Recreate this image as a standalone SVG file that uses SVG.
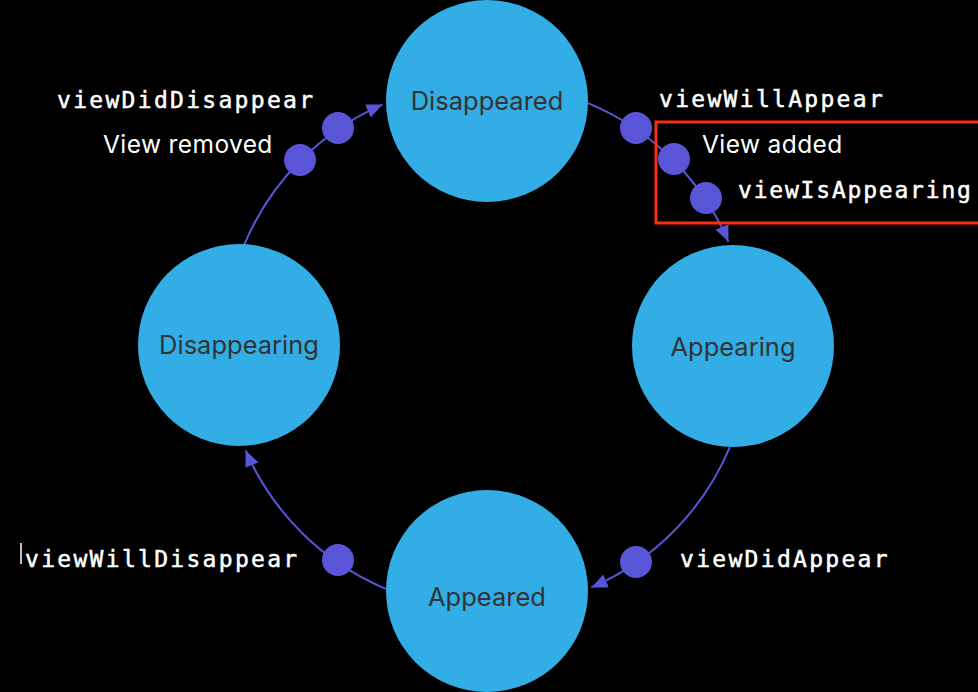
<svg xmlns="http://www.w3.org/2000/svg" width="978" height="692" viewBox="0 0 978 692">
  <style>
    .state { fill: #32ADE6; }
    .stateText { font-family: Inter, "Noto Sans", "Liberation Sans", sans-serif; font-size: 25.5px; fill: #333333; text-anchor: middle; }
    .conn { fill: none; stroke: #5856D6; stroke-width: 2; }
    .dot { fill: #5856D6; }
    .code { font-family: "DejaVu Sans Mono", "Liberation Mono", monospace; font-size: 23px; fill: #FFFFFF; letter-spacing: 2.3px; font-weight: normal; stroke: #FFFFFF; stroke-width: 0.5px; }
    .note { font-family: Inter, "Noto Sans", "Liberation Sans", sans-serif; font-size: 24.5px; letter-spacing: 0.4px; fill: #FFFFFF; }
  </style>
  <defs>
    <marker id="arrow" markerUnits="userSpaceOnUse" markerWidth="18" markerHeight="16" refX="16" refY="7" orient="auto">
      <path d="M0,0 L16,7 L0,14 z" fill="#5856D6"/>
    </marker>
  </defs>
  <rect x="0" y="0" width="978" height="692" fill="#000000"/>

  <g id="connectors">
    <path class="conn" d="M244.2,244.9 A263,263 0 0 1 382.6,104.6" marker-end="url(#arrow)"/>
    <path class="conn" d="M588.1,103.2 A263,263 0 0 1 728.4,241.6" marker-end="url(#arrow)"/>
    <path class="conn" d="M729.8,447.1 A263,263 0 0 1 591.4,587.4" marker-end="url(#arrow)"/>
    <path class="conn" d="M385.9,588.8 A263,263 0 0 1 245.6,450.4" marker-end="url(#arrow)"/>
  </g>

  <g id="dots">
    <circle class="dot" cx="300" cy="160" r="16"/>
    <circle class="dot" cx="338" cy="128" r="16"/>
    <circle class="dot" cx="636" cy="128" r="16"/>
    <circle class="dot" cx="674" cy="159" r="16"/>
    <circle class="dot" cx="706" cy="198" r="16"/>
    <circle class="dot" cx="636" cy="562" r="16"/>
    <circle class="dot" cx="338" cy="560" r="16"/>
  </g>

  <g id="node-disappeared">
    <circle class="state" cx="487" cy="101" r="101"/>
    <text class="stateText" x="487" y="110">Disappeared</text>
  </g>
  <g id="node-appearing">
    <circle class="state" cx="733" cy="346" r="101"/>
    <text class="stateText" x="733" y="356">Appearing</text>
  </g>
  <g id="node-appeared">
    <circle class="state" cx="487" cy="591" r="101"/>
    <text class="stateText" x="487" y="606">Appeared</text>
  </g>
  <g id="node-disappearing">
    <circle class="state" cx="239" cy="345" r="101"/>
    <text class="stateText" x="239" y="354">Disappearing</text>
  </g>

  <g id="labels">
    <text class="code" x="57" y="108">viewDidDisappear</text>
    <text class="note" x="103" y="153">View removed</text>
    <text class="code" x="659" y="107">viewWillAppear</text>
    <text class="note" x="702" y="153">View added</text>
    <text class="code" x="738" y="198" style="letter-spacing:1.8px">viewIsAppearing</text>
    <text class="code" x="680" y="567">viewDidAppear</text>
    <text class="code" x="25" y="567">viewWillDisappear</text>
    <line x1="21" y1="543" x2="21" y2="564" stroke="#FFFFFF" stroke-width="1.5"/>
  </g>

  <rect id="highlight" x="656" y="122" width="330" height="101" fill="none" stroke="#FF2D0F" stroke-width="3"/>
</svg>
